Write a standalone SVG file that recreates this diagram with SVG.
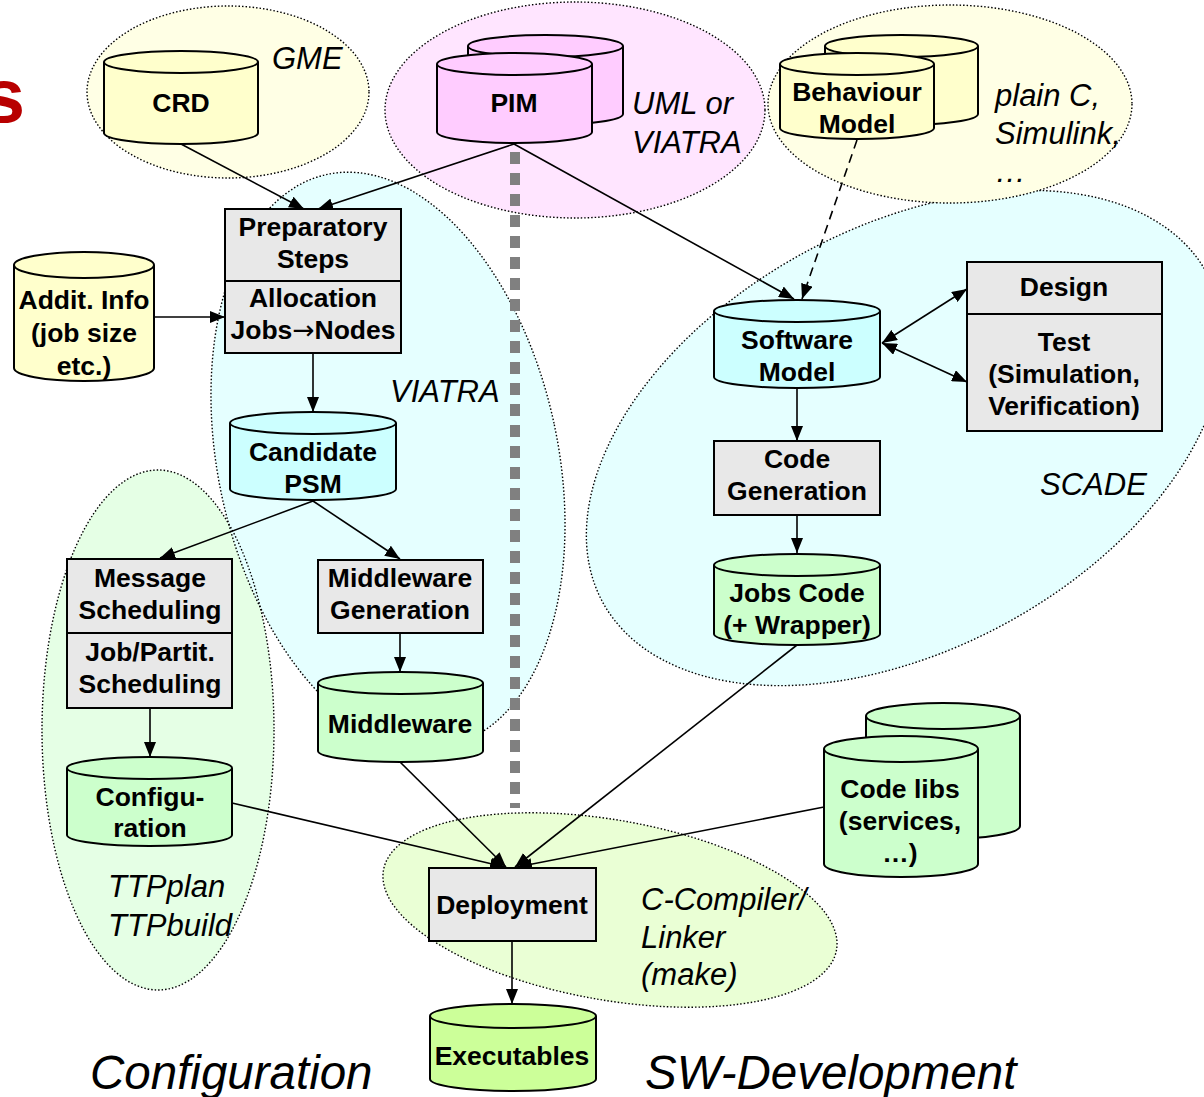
<svg xmlns="http://www.w3.org/2000/svg" width="1204" height="1097" viewBox="0 0 1204 1097">
  <style>
    .zone { stroke: #000; stroke-width: 1.4; stroke-dasharray: 1.5 2; }
    .zf { stroke: none; }
    .box { fill: #e8e8e8; stroke: #000; stroke-width: 2; }
    .cyl { stroke: #000; stroke-width: 2; }
    .lbl { font-family: "Liberation Sans", Arial, sans-serif; font-weight: bold; font-size: 26.5px; text-anchor: middle; fill: #000; }
    .sym { font-family: "DejaVu Sans", sans-serif; font-weight: normal; }
    .tool { font-family: "Liberation Sans", Arial, sans-serif; font-style: italic; font-size: 31px; fill: #000; }
    .big { font-family: "Liberation Sans", Arial, sans-serif; font-style: italic; font-size: 47.5px; fill: #000; }
    .yel { fill: #ffffcc; }
    .pink { fill: #ffccff; }
    .cyan { fill: #ccffff; }
    .green { fill: #ccffcc; }
    .lime { fill: #ccff99; }
    .edge { stroke: #000; stroke-width: 1.6; fill: none; }
  </style>
  <defs>
    <marker id="arr" viewBox="0 0 15 12" refX="15" refY="6" markerWidth="15" markerHeight="12" markerUnits="userSpaceOnUse" orient="auto-start-reverse">
      <path d="M0,0 L15,6 L0,12 Z" fill="#000"/>
    </marker>
  </defs>

  <rect width="1204" height="1097" fill="#fff"/>

  <!-- clipped heading letter -->
  <text x="25" y="122" font-family="Liberation Sans, Arial, sans-serif" font-weight="bold" font-size="76" fill="#b80000" text-anchor="end">s</text>

  <!-- tool regions -->
  <g id="regions">
    <ellipse id="zone-scade" class="zone" cx="905" cy="438" rx="344" ry="211" transform="rotate(-28.5 905 438)" fill="#e5ffff"/>
    <ellipse class="zf" cx="158" cy="730" rx="116" ry="260" fill="#e5ffe5"/>
    <ellipse class="zf" cx="388" cy="460" rx="170" ry="292" transform="rotate(-12 388 460)" fill="#e5ffff"/>
    <ellipse id="zone-ttp" class="zone" cx="158" cy="730" rx="116" ry="260" fill="none"/>
    <ellipse id="zone-viatra" class="zone" cx="388" cy="460" rx="170" ry="292" transform="rotate(-12 388 460)" fill="none"/>
    <ellipse id="zone-gme" class="zone" cx="228" cy="92" rx="141" ry="86" fill="#ffffe5"/>
    <ellipse id="zone-uml" class="zone" cx="575" cy="110" rx="190" ry="108" fill="#ffe5ff"/>
    <ellipse id="zone-plain" class="zone" cx="950" cy="104" rx="182" ry="99" fill="#ffffe5"/>
    <ellipse id="zone-make" class="zone" cx="610" cy="910" rx="230" ry="90" transform="rotate(10 610 910)" fill="#eaffd5"/>
  </g>

  <!-- dividing line -->
  <line x1="515" y1="152" x2="515" y2="808" stroke="#808080" stroke-width="10" stroke-dasharray="12 9"/>

  <!-- region labels -->
  <g id="region-labels">
    <text class="tool" x="272" y="69">GME</text>
    <text class="tool" x="632" y="114">UML or</text>
    <text class="tool" x="632" y="153">VIATRA</text>
    <text class="tool" x="995" y="106">plain C,</text>
    <text class="tool" x="995" y="144">Simulink,</text>
    <text class="tool" x="995" y="182">…</text>
    <text class="tool" x="390" y="402">VIATRA</text>
    <text class="tool" x="1040" y="495">SCADE</text>
    <text class="tool" x="108" y="897">TTPplan</text>
    <text class="tool" x="108" y="936">TTPbuild</text>
    <text class="tool" x="641" y="910">C-Compiler/</text>
    <text class="tool" x="641" y="948">Linker</text>
    <text class="tool" x="641" y="985">(make)</text>
    <text class="big" x="90" y="1089">Configuration</text>
    <text class="big" x="645" y="1089">SW-Development</text>
  </g>

  <!-- connectors -->
  <g id="connectors">
    <line class="edge" x1="181" y1="144" x2="304" y2="209" marker-end="url(#arr)"/>
    <line class="edge" x1="514" y1="144" x2="318" y2="209" marker-end="url(#arr)"/>
    <line class="edge" x1="154" y1="317" x2="225" y2="317" marker-end="url(#arr)"/>
    <line class="edge" x1="313" y1="353" x2="313" y2="412" marker-end="url(#arr)"/>
    <line class="edge" x1="313" y1="501" x2="160" y2="558" marker-end="url(#arr)"/>
    <line class="edge" x1="313" y1="501" x2="400" y2="559" marker-end="url(#arr)"/>
    <line class="edge" x1="150" y1="708" x2="150" y2="757" marker-end="url(#arr)"/>
    <line class="edge" x1="400" y1="633" x2="400" y2="672" marker-end="url(#arr)"/>
    <line class="edge" x1="514" y1="144" x2="794" y2="299" marker-end="url(#arr)"/>
    <line class="edge" x1="857" y1="140" x2="802" y2="299" stroke-dasharray="9 6" marker-end="url(#arr)"/>
    <line class="edge" x1="882" y1="343" x2="967" y2="289" marker-start="url(#arr)" marker-end="url(#arr)"/>
    <line class="edge" x1="882" y1="343" x2="967" y2="382" marker-start="url(#arr)" marker-end="url(#arr)"/>
    <line class="edge" x1="797" y1="388" x2="797" y2="441" marker-end="url(#arr)"/>
    <line class="edge" x1="797" y1="515" x2="797" y2="553" marker-end="url(#arr)"/>
    <line class="edge" x1="232" y1="803" x2="505" y2="867" marker-end="url(#arr)"/>
    <line class="edge" x1="400" y1="762" x2="506" y2="867" marker-end="url(#arr)"/>
    <line class="edge" x1="797" y1="645" x2="515" y2="867" marker-end="url(#arr)"/>
    <line class="edge" x1="824" y1="807" x2="517" y2="867" marker-end="url(#arr)"/>
    <line class="edge" x1="512" y1="941" x2="512" y2="1004" marker-end="url(#arr)"/>
  </g>

  <!-- data stores -->
  <g id="crd">
    <path class="cyl yel" d="M104,62 V133 A77,11 0 0 0 258,133 V62"/>
    <ellipse class="cyl yel" cx="181" cy="62" rx="77" ry="11"/>
    <text class="lbl" x="181" y="112">CRD</text>
  </g>

  <g id="pim">
    <path class="cyl pink" d="M468,46 V114 A77.5,11 0 0 0 623,114 V46"/>
    <ellipse class="cyl pink" cx="545.5" cy="46" rx="77.5" ry="11"/>
    <path class="cyl pink" d="M437,64 V132 A77.5,11 0 0 0 592,132 V64"/>
    <ellipse class="cyl pink" cx="514.5" cy="64" rx="77.5" ry="11"/>
    <text class="lbl" x="514" y="112">PIM</text>
  </g>

  <g id="behaviour-model">
    <path class="cyl yel" d="M825,46 V114 A76.5,11 0 0 0 978,114 V46"/>
    <ellipse class="cyl yel" cx="901.5" cy="46" rx="76.5" ry="11"/>
    <path class="cyl yel" d="M780,64 V128 A77,11 0 0 0 934,128 V64"/>
    <ellipse class="cyl yel" cx="857" cy="64" rx="77" ry="11"/>
    <text class="lbl" x="857" y="101">Behaviour</text>
    <text class="lbl" x="857" y="133">Model</text>
  </g>

  <g id="addit-info">
    <path class="cyl yel" d="M14,265 V368 A70,13 0 0 0 154,368 V265"/>
    <ellipse class="cyl yel" cx="84" cy="265" rx="70" ry="13"/>
    <text class="lbl" x="84" y="309">Addit. Info</text>
    <text class="lbl" x="84" y="342">(job size</text>
    <text class="lbl" x="84" y="375">etc.)</text>
  </g>

  <g id="preparatory-steps">
    <rect class="box" x="225" y="209" width="176" height="72"/>
    <rect class="box" x="225" y="281" width="176" height="72"/>
    <text class="lbl" x="313" y="236">Preparatory</text>
    <text class="lbl" x="313" y="268">Steps</text>
    <text class="lbl" x="313" y="307">Allocation</text>
    <text class="lbl" x="313" y="339">Jobs<tspan class="sym">→</tspan>Nodes</text>
  </g>

  <g id="candidate-psm">
    <path class="cyl cyan" d="M230,423 V489 A83,11 0 0 0 396,489 V423"/>
    <ellipse class="cyl cyan" cx="313" cy="423" rx="83" ry="11"/>
    <text class="lbl" x="313" y="461">Candidate</text>
    <text class="lbl" x="313" y="493">PSM</text>
  </g>

  <g id="scheduling">
    <rect class="box" x="67" y="559" width="165" height="74"/>
    <rect class="box" x="67" y="633" width="165" height="75"/>
    <text class="lbl" x="150" y="587">Message</text>
    <text class="lbl" x="150" y="619">Scheduling</text>
    <text class="lbl" x="150" y="661">Job/Partit.</text>
    <text class="lbl" x="150" y="693">Scheduling</text>
  </g>

  <g id="configuration">
    <path class="cyl green" d="M67,768 V835 A82.5,11 0 0 0 232,835 V768"/>
    <ellipse class="cyl green" cx="149.5" cy="768" rx="82.5" ry="11"/>
    <text class="lbl" x="150" y="806">Configu-</text>
    <text class="lbl" x="150" y="837">ration</text>
  </g>

  <g id="middleware-generation">
    <rect class="box" x="318" y="560" width="165" height="73"/>
    <text class="lbl" x="400" y="587">Middleware</text>
    <text class="lbl" x="400" y="619">Generation</text>
  </g>

  <g id="middleware">
    <path class="cyl green" d="M318,683 V751 A82.5,11 0 0 0 483,751 V683"/>
    <ellipse class="cyl green" cx="400.5" cy="683" rx="82.5" ry="11"/>
    <text class="lbl" x="400" y="733">Middleware</text>
  </g>

  <g id="software-model">
    <path class="cyl cyan" d="M714,311 V377 A83,11 0 0 0 880,377 V311"/>
    <ellipse class="cyl cyan" cx="797" cy="311" rx="83" ry="11"/>
    <text class="lbl" x="797" y="349">Software</text>
    <text class="lbl" x="797" y="381">Model</text>
  </g>

  <g id="design-test">
    <rect class="box" x="967" y="262" width="195" height="52"/>
    <rect class="box" x="967" y="314" width="195" height="117"/>
    <text class="lbl" x="1064" y="296">Design</text>
    <text class="lbl" x="1064" y="351">Test</text>
    <text class="lbl" x="1064" y="383">(Simulation,</text>
    <text class="lbl" x="1064" y="415">Verification)</text>
  </g>

  <g id="code-generation">
    <rect class="box" x="714" y="441" width="166" height="74"/>
    <text class="lbl" x="797" y="468">Code</text>
    <text class="lbl" x="797" y="500">Generation</text>
  </g>

  <g id="jobs-code">
    <path class="cyl green" d="M714,565 V634 A83,11 0 0 0 880,634 V565"/>
    <ellipse class="cyl green" cx="797" cy="565" rx="83" ry="11"/>
    <text class="lbl" x="797" y="602">Jobs Code</text>
    <text class="lbl" x="797" y="634">(+ Wrapper)</text>
  </g>

  <g id="code-libs">
    <path class="cyl green" d="M866,716 V826 A77,13 0 0 0 1020,826 V716"/>
    <ellipse class="cyl green" cx="943" cy="716" rx="77" ry="13"/>
    <path class="cyl green" d="M824,749 V864 A77,13 0 0 0 978,864 V749"/>
    <ellipse class="cyl green" cx="901" cy="749" rx="77" ry="13"/>
    <text class="lbl" x="900" y="798">Code libs</text>
    <text class="lbl" x="900" y="830">(services,</text>
    <text class="lbl" x="900" y="862">…)</text>
  </g>

  <g id="deployment">
    <rect class="box" x="429" y="868" width="167" height="73"/>
    <text class="lbl" x="512" y="914">Deployment</text>
  </g>

  <g id="executables">
    <path class="cyl lime" d="M430,1016 V1079 A83,12 0 0 0 596,1079 V1016"/>
    <ellipse class="cyl lime" cx="513" cy="1016" rx="83" ry="12"/>
    <text class="lbl" x="512" y="1065">Executables</text>
  </g>
</svg>
